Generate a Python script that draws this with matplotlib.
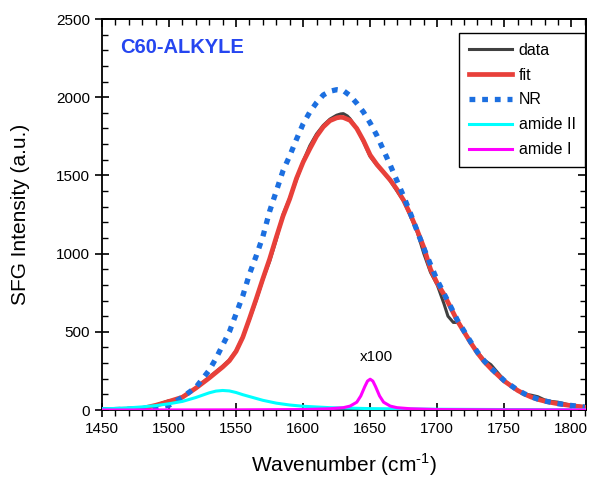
import numpy as np
import matplotlib
matplotlib.use("Agg")
import matplotlib.pyplot as plt
from matplotlib.ticker import MultipleLocator, NullFormatter

plt.rcParams['font.family'] = ['Liberation Sans', 'DejaVu Sans']
plt.rcParams['mathtext.fontset'] = 'custom'
plt.rcParams['mathtext.rm'] = 'Liberation Sans'

# datos (cm-1, u.a.)
wn_data = [1450, 1460, 1470, 1480, 1485, 1490, 1495, 1500, 1505, 1510, 1515, 1520, 1525,
           1530, 1535, 1540, 1545, 1550, 1555, 1560, 1565, 1570, 1575, 1580, 1585, 1590,
           1595, 1600, 1605, 1610, 1615, 1620, 1625, 1628, 1630, 1633, 1635, 1640, 1645,
           1650, 1655, 1660, 1665, 1670, 1675, 1680, 1685, 1690, 1695, 1700, 1705, 1708,
           1712, 1716, 1720, 1725, 1730, 1735, 1740, 1745, 1750, 1755, 1760, 1765, 1770,
           1775, 1780, 1785, 1790, 1795, 1800, 1805, 1810]
data = [5, 6, 8, 12, 18, 30, 45, 60, 64, 85, 110, 140, 175,
        210, 245, 280, 320, 380, 465, 580, 700, 835, 950, 1090, 1250, 1355,
        1470, 1590, 1690, 1765, 1820, 1860, 1885, 1893, 1895, 1880, 1862, 1800, 1715,
        1620, 1565, 1520, 1465, 1400, 1335, 1240, 1140, 1000, 880, 800, 680, 600,
        560, 560, 500, 430, 370, 320, 290, 240, 190, 155, 125, 102, 95,
        85, 65, 55, 50, 40, 30, 25, 22]

wn_fit = [1450, 1460, 1470, 1480, 1490, 1500, 1510, 1520, 1530, 1535, 1540, 1545, 1550,
          1555, 1560, 1565, 1570, 1575, 1580, 1585, 1590, 1595, 1600, 1605, 1610, 1615,
          1620, 1625, 1628, 1630, 1635, 1640, 1645, 1650, 1655, 1660, 1665, 1670, 1675,
          1680, 1685, 1690, 1695, 1700, 1705, 1710, 1715, 1720, 1725, 1730, 1735, 1740,
          1745, 1750, 1755, 1760, 1765, 1770, 1775, 1780, 1785, 1790, 1800, 1810]
fit = [3, 4, 6, 10, 30, 55, 82, 140, 205, 240, 275, 315, 375,
       465, 585, 710, 840, 965, 1105, 1240, 1350, 1480, 1585, 1670, 1750, 1810,
       1850, 1868, 1872, 1870, 1852, 1800, 1722, 1630, 1570, 1520, 1470, 1410, 1340,
       1250, 1150, 1040, 900, 810, 740, 655, 570, 500, 430, 365, 310, 265,
       225, 185, 155, 125, 102, 83, 68, 57, 48, 40, 28, 18]

wn_nr = [1450, 1460, 1470, 1480, 1490, 1500, 1510, 1520, 1530, 1535, 1540, 1545, 1550,
         1555, 1560, 1565, 1570, 1575, 1580, 1585, 1590, 1595, 1600, 1605, 1610, 1615,
         1620, 1625, 1630, 1635, 1640, 1645, 1650, 1655, 1660, 1665, 1670, 1675, 1680,
         1685, 1690, 1695, 1700, 1705, 1710, 1715, 1720, 1725, 1730, 1735, 1740, 1745,
         1750, 1755, 1760, 1765, 1770, 1775, 1780, 1785, 1790, 1800, 1810]
nr = [2, 3, 5, 8, 15, 30, 82, 145, 255, 330, 415, 500, 615,
      730, 870, 985, 1110, 1270, 1400, 1530, 1625, 1730, 1830, 1905, 1965, 2014,
      2038, 2048, 2042, 2010, 1961, 1905, 1835, 1755, 1660, 1565, 1465, 1365, 1258,
      1145, 1035, 930, 830, 745, 662, 575, 505, 435, 370, 315, 268,
      228, 188, 157, 127, 104, 85, 70, 58, 49, 41, 29, 19]

wn_a2 = [1450, 1460, 1470, 1480, 1490, 1500, 1510, 1520, 1525, 1530, 1535, 1540, 1545,
         1550, 1555, 1560, 1565, 1570, 1580, 1590, 1600, 1620, 1650, 1700, 1750, 1810]
amide2 = [8, 10, 14, 20, 28, 40, 55, 80, 95, 110, 121, 125, 122,
          112, 98, 86, 74, 62, 44, 32, 24, 15, 9, 5, 3, 2]

wn_a1 = [1450, 1500, 1550, 1600, 1620, 1630, 1635, 1640, 1643, 1646, 1648, 1650, 1652,
         1654, 1657, 1660, 1665, 1670, 1680, 1700, 1750, 1810]
amide1 = [0, 0.5, 1, 3, 8, 15, 25, 50, 90, 150, 185, 197, 185,
          150, 90, 50, 25, 15, 8, 3, 1, 0.5]

fig = plt.figure(figsize=(5.95, 4.8), dpi=100)
ax = fig.add_axes([0.1714, 0.1458, 0.8136, 0.8146])

ax.plot(wn_data, data, color="#404040", lw=2.2, label="data", zorder=3)
ax.plot(wn_fit, fit, color="#E8403A", lw=3.4, label="fit", zorder=4)
ax.plot(wn_nr, nr, color="#1C6FE0", lw=3.8, ls=(0, (1.1, 1.3)), label="NR", zorder=5)
ax.plot(wn_a2, amide2, color="#00FFFF", lw=2.2, label="amide II", zorder=6)
ax.plot(wn_a1, amide1, color="#FF00FF", lw=2.2, label="amide I", zorder=7)

ax.text(1654.5, 340, "x100", fontsize=11, ha="center", va="center")
ax.text(0.037, 0.928, "C60-ALKYLE", transform=ax.transAxes, fontsize=14.5,
        fontweight="bold", color="#2646F0", ha="left", va="center")

ax.set_xlim(1450, 1811)
ax.set_ylim(0, 2500)
ax.xaxis.set_major_locator(MultipleLocator(50))
ax.xaxis.set_minor_locator(MultipleLocator(10))
ax.yaxis.set_major_locator(MultipleLocator(500))
ax.yaxis.set_minor_locator(MultipleLocator(100))

ax.tick_params(which="major", direction="inout", length=10, width=1.2, labelsize=11)
ax.tick_params(axis="y", which="minor", direction="in", length=4, width=1.0)
ax.tick_params(axis="x", which="minor", direction="out", length=4, width=1.0)
for s in ax.spines.values():
    s.set_linewidth(1.3)

# ejes de arriba y derecha solo con marcas hacia dentro
top = ax.secondary_xaxis("top")
top.xaxis.set_major_locator(MultipleLocator(50))
top.xaxis.set_minor_locator(MultipleLocator(10))
top.xaxis.set_major_formatter(NullFormatter())
top.tick_params(which="major", direction="in", length=6, width=1.2)
top.tick_params(which="minor", direction="in", length=4, width=1.0)
right = ax.secondary_yaxis("right")
right.yaxis.set_major_locator(MultipleLocator(500))
right.yaxis.set_minor_locator(MultipleLocator(100))
right.yaxis.set_major_formatter(NullFormatter())
right.tick_params(which="major", direction="in", length=6, width=1.2)
right.tick_params(which="minor", direction="in", length=4, width=1.0)
top.spines["top"].set_linewidth(1.3)
right.spines["right"].set_linewidth(1.3)

ax.set_xlabel(r"Wavenumber (cm$^{\text{-1}}$)", fontsize=15, labelpad=11)
ax.set_ylabel("SFG Intensity (a.u.)", fontsize=15, labelpad=19)

leg = ax.legend(loc="upper right", bbox_to_anchor=(0.998, 0.964), borderaxespad=0,
                fontsize=11.5, handlelength=2.7, handletextpad=0.4,
                labelspacing=0.62, borderpad=0.6,
                fancybox=False, edgecolor="black", framealpha=1)
leg.get_frame().set_linewidth(1.0)

fig.savefig("out.png", dpi=100)
